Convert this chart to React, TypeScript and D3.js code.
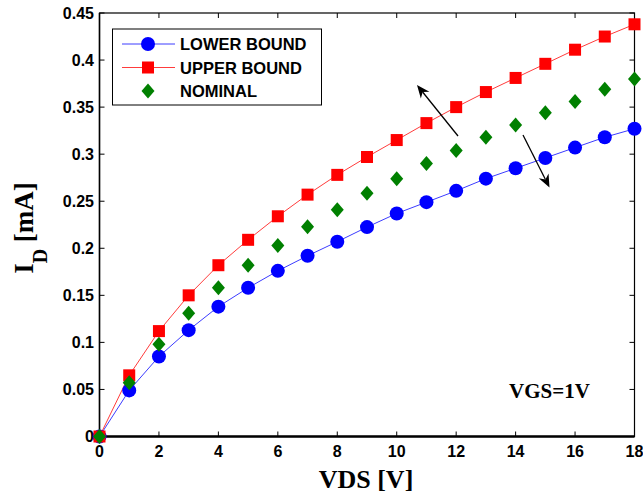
import React from "react";
import * as d3 from "d3";

const vds = [0,1,2,3,4,5,6,7,8,9,10,11,12,13,14,15,16,17,18];
const lowerBound = [0,0.049,0.085,0.113,0.138,0.158,0.176,0.192,0.207,0.2225,0.237,0.249,0.261,0.274,0.285,0.296,0.307,0.318,0.327];
const upperBound = [0,0.065,0.112,0.150,0.182,0.209,0.234,0.257,0.278,0.297,0.315,0.333,0.350,0.366,0.381,0.396,0.411,0.425,0.438];
const nominal = [0,0.057,0.098,0.131,0.158,0.182,0.203,0.223,0.241,0.2585,0.274,0.290,0.304,0.318,0.331,0.344,0.356,0.369,0.380];
const xTicks = [0,2,4,6,8,10,12,14,16,18];
const yTicks = [0,0.05,0.1,0.15,0.2,0.25,0.3,0.35,0.4,0.45];
const yTickLabels = ["0","0.05","0.1","0.15","0.2","0.25","0.3","0.35","0.4","0.45"];
const legendLabels = ["LOWER BOUND","UPPER BOUND","NOMINAL"];

const W = 643, H = 494;
const x = d3.scaleLinear().domain([0, 18]).range([99.5, 634.5]);
const y = d3.scaleLinear().domain([0, 0.45]).range([436.5, 13]);

const sans = "'Liberation Sans', Arial, sans-serif";
const serif = "'Liberation Serif', 'Times New Roman', serif";

function Circle({ cx, cy }: { cx: number; cy: number }) {
  return <circle cx={cx} cy={cy} r={7} fill="#0000ff" />;
}
function Square({ cx, cy }: { cx: number; cy: number }) {
  return <rect x={cx - 6} y={cy - 6} width={12} height={12} fill="#ff0000" />;
}
function Diamond({ cx, cy }: { cx: number; cy: number }) {
  return <path d={`M${cx},${cy - 7.5}L${cx + 6.5},${cy}L${cx},${cy + 7.5}L${cx - 6.5},${cy}Z`} fill="#008000" />;
}

function Arrow({ x1, y1, x2, y2 }: { x1: number; y1: number; x2: number; y2: number }) {
  const ang = Math.atan2(y2 - y1, x2 - x1);
  const L = 13, Wd = 5.5, notch = 9;
  const ux = Math.cos(ang), uy = Math.sin(ang);
  const px = -uy, py = ux;
  const bx = x2 - ux * L, by = y2 - uy * L;
  const nx = x2 - ux * notch, ny = y2 - uy * notch;
  const head = `M${x2},${y2}L${bx + px * Wd},${by + py * Wd}L${nx},${ny}L${bx - px * Wd},${by - py * Wd}Z`;
  return (
    <g>
      <line x1={x1} y1={y1} x2={nx} y2={ny} stroke="#000" strokeWidth={1.3} />
      <path d={head} fill="#000" />
    </g>
  );
}

export default function App() {
  const line = d3.line<number>().x((_, i) => x(vds[i])).y((d) => y(d));
  const [x0, x1] = x.range();
  const [y0, y1] = y.range();
  const tl = 5;
  return (
    <svg width={W} height={H} style={{ position: "absolute", left: 0, top: 0, background: "#fff" }}>
      <rect x={0} y={0} width={W} height={H} fill="#fff" />
      {/* box */}
      <rect x={x0} y={y1} width={x1 - x0} height={y0 - y1} fill="none" stroke="#000" strokeWidth={1.2} />
      <line x1={x0} y1={y0} x2={x1} y2={y0} stroke="#000" strokeWidth={2.5} />
      <line x1={x0} y1={y0} x2={x0} y2={y1} stroke="#000" strokeWidth={1.5} />
      {xTicks.map((t) => (
        <g key={"xt" + t}>
          <line x1={x(t)} x2={x(t)} y1={y0} y2={y0 - tl} stroke="#000" strokeWidth={1} />
          <line x1={x(t)} x2={x(t)} y1={y1} y2={y1 + tl} stroke="#000" strokeWidth={1} />
          <text x={x(t)} y={457} textAnchor="middle" fontFamily={sans} fontWeight="bold" fontSize={16}>{t}</text>
        </g>
      ))}
      {yTicks.map((t, i) => (
        <g key={"yt" + t}>
          <line x1={x0} x2={x0 + tl} y1={y(t)} y2={y(t)} stroke="#000" strokeWidth={1} />
          <line x1={x1} x2={x1 - tl} y1={y(t)} y2={y(t)} stroke="#000" strokeWidth={1} />
          <text x={94} y={y(t) + 5.5} textAnchor="end" fontFamily={sans} fontWeight="bold" fontSize={16}>{yTickLabels[i]}</text>
        </g>
      ))}
      {/* lines */}
      <path d={line(lowerBound) || ""} fill="none" stroke="#3c3cff" strokeWidth={1} />
      <path d={line(upperBound) || ""} fill="none" stroke="#ff3c3c" strokeWidth={1} />
      {lowerBound.map((v, i) => <Circle key={"c" + i} cx={x(vds[i])} cy={y(v)} />)}
      {upperBound.map((v, i) => <Square key={"s" + i} cx={x(vds[i])} cy={y(v)} />)}
      {nominal.map((v, i) => <Diamond key={"d" + i} cx={x(vds[i])} cy={y(v)} />)}
      {/* arrows */}
      <Arrow x1={458} y1={136} x2={417} y2={85} />
      <Arrow x1={523} y1={135} x2={549.5} y2={187.5} />
      {/* legend */}
      <rect x={112.5} y={29} width={209} height={76} fill="#fff" stroke="#000" strokeWidth={1} />
      {legendLabels.map((lab, i) => {
        const ly = 44 + i * 23.5;
        return (
          <g key={lab}>
            {i < 2 && <line x1={122} x2={175} y1={ly} y2={ly} stroke={i === 0 ? "#3c3cff" : "#ff3c3c"} strokeWidth={1} />}
            {i === 0 && <Circle cx={148} cy={ly} />}
            {i === 1 && <Square cx={148} cy={ly} />}
            {i === 2 && <Diamond cx={148} cy={ly} />}
            <text x={180} y={ly + 6} fontFamily={sans} fontWeight="bold" fontSize={16.5}>{lab}</text>
          </g>
        );
      })}
      <text x={509} y={398} fontFamily={serif} fontWeight="bold" fontSize={21}>VGS=1V</text>
      <text x={366} y={488} textAnchor="middle" fontFamily={serif} fontWeight="bold" fontSize={26}>VDS [V]</text>
      <text transform="translate(33,228) rotate(-90)" textAnchor="middle" fontFamily={serif} fontWeight="bold" fontSize={27}>
        I<tspan fontSize={20} dy={14}>D</tspan><tspan dy={-14}> [mA]</tspan>
      </text>
    </svg>
  );
}
